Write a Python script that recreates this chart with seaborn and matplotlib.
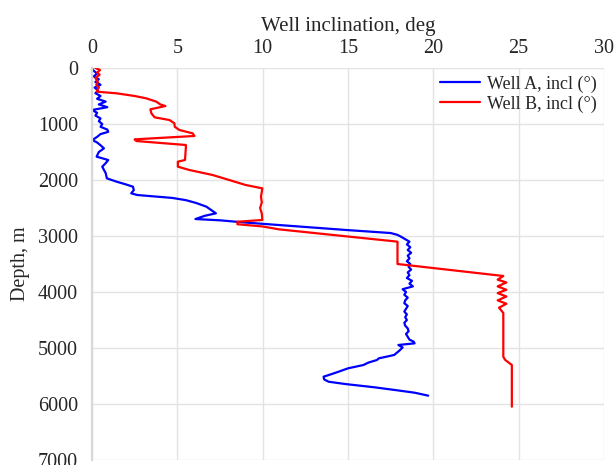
import matplotlib
matplotlib.use("Agg")
import matplotlib.pyplot as plt
import seaborn as sns
import pandas as pd

# Well A (blue): depth (m) and inclination (deg)
depth_a = [0, 36, 100, 150, 200, 250, 300, 350, 400, 450, 500, 550, 600, 650, 700,
           750, 800, 850, 900, 950, 1000, 1050, 1100, 1140, 1180, 1230, 1286, 1330,
           1380, 1435, 1500, 1583, 1643, 1700, 1762, 1820, 1875, 1970, 2030, 2080,
           2120, 2180, 2238, 2268, 2320, 2360, 2410, 2476, 2540, 2595, 2640, 2697,
           2720, 2760, 2804, 2850, 2893, 2947, 2980, 3012, 3101, 3150, 3200, 3250,
           3300, 3350, 3400, 3450, 3500, 3550, 3600, 3650, 3700, 3750, 3800, 3850,
           3900, 3950, 4000, 4050, 4100, 4150, 4200, 4250, 4300, 4350, 4400, 4450,
           4500, 4550, 4600, 4650, 4700, 4750, 4800, 4850, 4887, 4917, 4946, 4990,
           5050, 5125, 5185, 5214, 5260, 5304, 5363, 5423, 5470, 5512, 5560, 5602,
           5643, 5700, 5750, 5798, 5851]
incl_a = [0.0, 0.05, 0.3, 0.1, 0.4, 0.2, 0.5, 0.15, 0.35, 0.2, 0.5, 0.3, 0.8, 0.4, 0.9,
          0.0, 0.3, 0.2, 0.5, 0.4, 0.6, 0.5, 0.9, 0.95, 0.5, 0.3, 0.02, 0.3,
          0.5, 0.7, 0.4, 0.27, 0.95, 0.8, 0.6, 0.7, 0.8, 0.87, 1.44, 2.0,
          2.4, 2.45, 2.3, 2.65, 4.7, 5.5, 6.1, 6.7, 7.0, 7.26, 6.6, 6.06,
          7.5, 9.0, 10.95, 13.0, 14.9, 17.5, 17.9, 18.1, 18.6, 18.45, 18.65, 18.5,
          18.7, 18.5, 18.6, 18.45, 18.65, 18.55, 18.7, 18.5, 18.6, 18.45, 18.75, 18.6,
          18.8, 18.2, 18.4, 18.3, 18.5, 18.35, 18.3, 18.5, 18.4, 18.3, 18.45, 18.35,
          18.45, 18.3, 18.35, 18.5, 18.55, 18.4, 18.5, 18.6, 18.85, 18.9, 17.95, 18.2,
          18.0, 17.7, 16.8, 16.7, 16.2, 15.9, 15.0, 14.45, 14.0, 13.57, 13.6, 13.86,
          14.83, 16.5, 17.75, 18.9, 19.7]

# Well B (red): depth (m) and inclination (deg)
depth_b = [0, 36, 80, 120, 180, 250, 300, 350, 400, 423, 452, 500, 542, 601, 650, 679,
           738, 810, 881, 929, 988, 1050, 1107, 1167, 1214, 1274, 1304, 1375, 1417,
           1643, 1673, 1762, 1821, 1911, 2000, 2089, 2149, 2208, 2300, 2400, 2500,
           2600, 2714, 2745, 2790, 2830, 2881, 3101, 3500, 3714, 3780, 3830, 3900,
           3960, 4020, 4080, 4150, 4210, 4280, 4375, 4500, 5155, 5210, 5304, 6048]
incl_b = [0.2, 0.47, 0.3, 0.45, 0.2, 0.35, 0.25, 0.4, 0.3, 0.3, 1.44, 2.5, 3.18, 3.77, 4.0, 4.3,
          3.42, 3.48, 3.67, 4.54, 4.83, 4.85, 5.12, 5.9, 6.0, 2.5, 2.6, 5.5, 5.5,
          5.45, 5.03, 5.03, 5.7, 7.07, 8.04, 9.0, 9.98, 9.95, 9.9, 9.95, 9.85,
          9.95, 9.98, 8.52, 8.52, 10.0, 10.95, 17.9, 17.9, 24.1, 23.77, 24.28, 23.77,
          24.28, 23.77, 24.28, 23.77, 24.28, 23.85, 24.1, 24.1, 24.1, 24.2, 24.6, 24.6]

label_a = "Well A, incl (°)"
label_b = "Well B, incl (°)"
x_ticks = [0, 5, 10, 15, 20, 25, 30]
y_ticks = [0, 1000, 2000, 3000, 4000, 5000, 6000, 7000]

df = pd.concat([
    pd.DataFrame({"depth": depth_a, "incl": incl_a, "well": label_a}),
    pd.DataFrame({"depth": depth_b, "incl": incl_b, "well": label_b}),
], ignore_index=True)

sns.set_theme(style="whitegrid")
plt.rcParams['font.family'] = ['Liberation Serif', 'DejaVu Serif']

fig = plt.figure(figsize=(6.16, 4.65), dpi=100)
ax = fig.add_axes([92 / 616, 1 - 460 / 465, (604 - 92) / 616, (460 - 68) / 465])

sns.lineplot(data=df, x="incl", y="depth", hue="well", sort=False, estimator=None,
             palette={label_a: "#0000ff", label_b: "#ff0000"}, linewidth=1.6, ax=ax)

ax.set_xlim(0, 30)
ax.set_ylim(7000, 0)
ax.set_xticks(x_ticks)
ax.set_yticks(y_ticks)
ax.xaxis.tick_top()
ax.xaxis.set_label_position('top')
ax.set_xlabel("Well inclination, deg", fontsize=15, labelpad=6)
ax.set_ylabel("Depth, m", fontsize=14.5, labelpad=6)
ax.tick_params(axis='both', labelsize=14.5, length=0)
ax.tick_params(axis='x', pad=7)
ax.tick_params(axis='y', pad=10)
ax.grid(True, color="#e3e3e3", linewidth=1.0)
for s in ["top", "right", "bottom"]:
    ax.spines[s].set_visible(False)
ax.spines["left"].set_color("#d9d9d9")
ax.spines["left"].set_linewidth(1.6)

leg = ax.legend(loc="upper right", bbox_to_anchor=(1.0, 1.0), frameon=False,
                fontsize=13, handlelength=2.2, labelspacing=0.15, borderaxespad=0.0,
                handletextpad=0.4, title=None)

fig.savefig("out.png", dpi=100)
